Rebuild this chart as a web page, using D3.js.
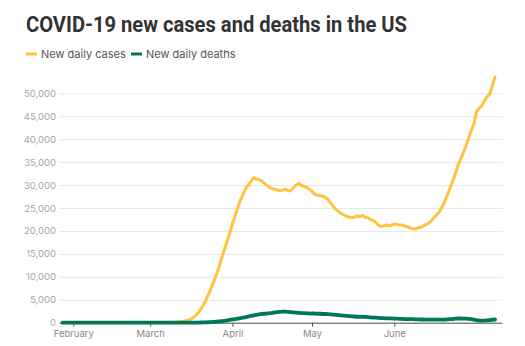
<!DOCTYPE html>
<html>
<head>
<meta charset="utf-8">
<script src="https://cdn.jsdelivr.net/npm/d3@7"></script>
<style>
  html, body { margin: 0; padding: 0; background: #fff; }
  svg { display: block; }
</style>
</head>
<body>
<script>
// ---- data (7-day average, starting Jan 28, 2020, one value per day) ----
const startDate = "2020-01-28";
const seriesNames = ["New daily cases", "New daily deaths"];
const cases = [
  // Jan 28-31
  1,1,1,1,
  // Feb
  1,1,1,1,1,1,1,1,1,1, 0,0,0,0,0,0,0,0,0,0, 0,0,0,1,1,1,2,3,4,
  // Mar
  8,12,18,25,32,42,55,70,85,100, 150,200,280,380,500,700,1000,1500,2100,2900,
  3800,4900,6200,7600,9000,10500,12300,14200,16000,17800, 19600,
  // Apr
  21500,23300,25100,26700,28000,29200,30000,30800,31600,31300,
  31200,30900,30400,29900,29500,29200,29100,28900,28800,28900,
  29100,28700,28800,29400,30000,30400,29900,29700,29500,29100,
  // May
  28600,28000,27800,27700,27600,27300,26900,26100,25300,24700,
  24200,23800,23500,23200,23000,22900,23000,23300,23100,23400,
  23000,22900,22500,22300,21900,21300,21000,21100,21300,21100, 21300,
  // Jun
  21500,21400,21300,21300,21000,20900,20600,20500,20400,20700,
  20800,21100,21400,21700,22200,22900,23500,24200,25200,26400,
  27800,29300,30800,32400,34200,35600,37000,38500,40200,41800,
  // Jul 1-9
  43300,46000,46700,47300,48300,49300,49800,51700,53500
];
const deaths = [
  0,0,0,0,
  0,0,0,0,0,0,0,0,0,0, 0,0,0,0,0,0,0,0,0,0, 0,0,0,0,0,0,0,0,0,
  0,1,1,1,1,2,2,2,3,3, 4,5,6,8,10,14,18,25,35,45,
  60,80,100,130,170,220,280,350,420,500, 600,
  700,800,900,1000,1100,1200,1350,1500,1600,1700,
  1800,1900,1950,2000,2100,2150,2250,2300,2350,2400,
  2400,2350,2300,2250,2200,2150,2100,2100,2050,2050,
  2000,2000,1950,1950,1900,1900,1850,1800,1750,1700,
  1650,1600,1550,1500,1450,1400,1350,1300,1300,1250,
  1250,1200,1150,1100,1100,1050,1000,1000,950,950, 950,
  900,900,850,850,800,800,780,760,740,720,
  700,700,680,670,660,650,650,650,660,680,
  720,760,800,880,920,920,900,870,840,790,
  650,550,480,450,460,520,580,640,700
];
const yTicks = [0,5000,10000,15000,20000,25000,30000,35000,40000,45000,50000];
const monthTicks = ["2020-02-01","2020-03-01","2020-04-01","2020-05-01","2020-06-01"];
const monthLabels = ["February","March","April","May","June"];
const colors = ["#fec33f", "#00775a"];

// ---- chart ----
const W = 525, H = 346;
const svg = d3.select("body").append("svg").attr("width", W).attr("height", H);
const parse = d3.timeParse("%Y-%m-%d");
const t0 = parse(startDate);
const dates = cases.map((_, i) => d3.timeDay.offset(t0, i));

const x = d3.scaleTime()
  .domain([parse("2020-01-27"), parse("2020-07-12")])
  .range([60, 503]);
const y = d3.scaleLinear().domain([0, 50000]).range([322.7, 93.3]);

const font = "Inter, 'Open Sans', sans-serif";

// title
svg.append("text")
  .attr("x", 26).attr("y", 32)
  .attr("font-family", "Roboto, sans-serif").attr("font-weight", 700)
  .attr("font-size", 21.5).attr("fill", "#333")
  .attr("textLength", 381).attr("lengthAdjust", "spacingAndGlyphs")
  .text("COVID-19 new cases and deaths in the US");

// legend
const legX = [26, 131];
seriesNames.forEach((n, i) => {
  svg.append("rect").attr("x", legX[i]).attr("y", 52.5).attr("width", 11).attr("height", 3)
    .attr("fill", colors[i]);
  svg.append("text").attr("x", legX[i] + 15).attr("y", 58)
    .attr("font-family", font).attr("font-size", 11).attr("fill", "#555")
    .text(n);
});

// y grid + labels
const yAxis = d3.axisLeft(y).tickValues(yTicks).tickSize(444).tickFormat(d3.format(","));
const gy = svg.append("g").attr("transform", "translate(503,0)").call(yAxis);
gy.select(".domain").remove();
gy.selectAll(".tick line").attr("stroke", "#e8e8e8").attr("stroke-width", 1);
gy.selectAll(".tick text").attr("x", -447).attr("fill", "#a6a6a6")
  .attr("font-family", font).attr("font-size", 9.5);

// x axis
const xAxis = d3.axisBottom(x).tickValues(monthTicks.map(parse))
  .tickSize(4).tickPadding(4)
  .tickFormat((d, i) => monthLabels[i]);
const gx = svg.append("g").attr("transform", `translate(0,${y(0)})`).call(xAxis);
gx.select(".domain").attr("d", "M59.5,0.5H502").attr("stroke", "#555");
gx.selectAll(".tick line").attr("stroke", "#555");
gx.selectAll(".tick text").attr("fill", "#888").attr("font-family", font).attr("font-size", 9.5);

// lines
const line = d3.line().x((d, i) => x(dates[i])).y(d => y(d)).curve(d3.curveLinear);
svg.append("path").datum(cases).attr("d", line)
  .attr("fill", "none").attr("stroke", colors[0]).attr("stroke-width", 3)
  .attr("stroke-linejoin", "round").attr("stroke-linecap", "round");
svg.append("path").datum(deaths).attr("d", line)
  .attr("fill", "none").attr("stroke", colors[1]).attr("stroke-width", 3.8)
  .attr("stroke-linejoin", "round").attr("stroke-linecap", "round");
</script>
</body>
</html>
